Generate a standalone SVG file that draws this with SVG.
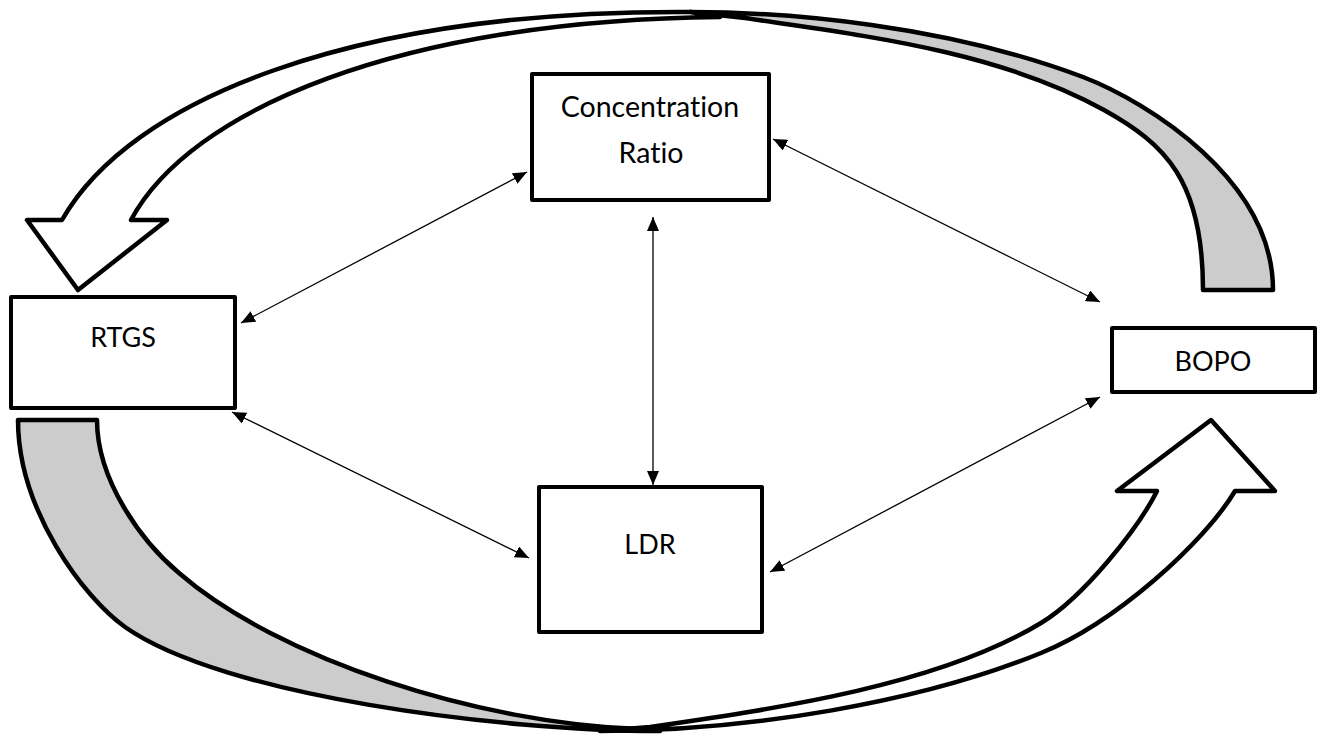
<svg xmlns="http://www.w3.org/2000/svg" width="1323" height="734" viewBox="0 0 1323 734">
<style>
.box{fill:#fff;stroke:#000;stroke-width:4;stroke-linejoin:round}
.lbl{font-family:Lato,"Liberation Sans",sans-serif;font-size:27px;fill:#000;text-anchor:middle;font-variant-ligatures:none}
.lbl2{font-size:28.5px}
.con{stroke:#000;stroke-width:1.3;fill:none;marker-start:url(#ah);marker-end:url(#ah)}
.band{fill:#fff;stroke:#000;stroke-width:4.5;stroke-linejoin:round}
.back{fill:#cccccc;stroke:#000;stroke-width:4.5;stroke-linejoin:round}
</style>
<defs>
<marker id="ah" viewBox="0 0 14 12" refX="14" refY="6" markerWidth="14" markerHeight="12" markerUnits="userSpaceOnUse" orient="auto-start-reverse">
<path d="M0,0 L14,6 L0,12 Z" fill="#000"/>
</marker>
</defs>
<g id="curved-arrows">
<g id="top-arrow">
<path class="back" d="M690,12 C788,12 945,25 1083,77 C1148,102 1273,180 1273,290 L1203,290 C1203,180 1165,144 1104,110 C992,48 848,34 745,18 Z"/>
<path class="band" d="M62,220 C130,100 350,10 690,12 L720,17 C400,20 190,110 131,220 L167,220 L78,290 L27,220 Z"/>
</g>
<g id="bottom-arrow">
<path class="back" d="M18,420 C18,510 84,598 125,627 C223,696 500,731 660,731 L640,729 C480,724 278,659 179,573 C141,541 97,480 97,420 Z"/>
<path class="band" d="M600,731 C750,731 921,702 1041,653 C1115,623 1204,543 1235,491 L1275,491 L1211,420 L1117,491 L1157,491 C1139,527 1084,597 1041,623 C939,685 780,708 650,727 Z"/>
</g>
</g>
<g id="connectors">
<line class="con" x1="241" y1="323" x2="527" y2="172"/>
<line class="con" x1="773" y1="139" x2="1100" y2="302"/>
<line class="con" x1="653" y1="217" x2="653" y2="485"/>
<line class="con" x1="232" y1="412" x2="529" y2="558"/>
<line class="con" x1="770" y1="572" x2="1100" y2="397"/>
</g>
<g id="node-concentration">
<rect class="box" x="532" y="74" width="237" height="126"/>
<text class="lbl lbl2" x="650" y="117">Concentration</text>
<text class="lbl lbl2" x="651" y="163">Ratio</text>
</g>
<g id="node-rtgs">
<rect class="box" x="11" y="297" width="224" height="111"/>
<text class="lbl" x="123" y="347">RTGS</text>
</g>
<g id="node-bopo">
<rect class="box" x="1112" y="328" width="203" height="64"/>
<text class="lbl" x="1213" y="371">BOPO</text>
</g>
<g id="node-ldr">
<rect class="box" x="539" y="487" width="223" height="145"/>
<text class="lbl" x="650" y="554">LDR</text>
</g>
</svg>
